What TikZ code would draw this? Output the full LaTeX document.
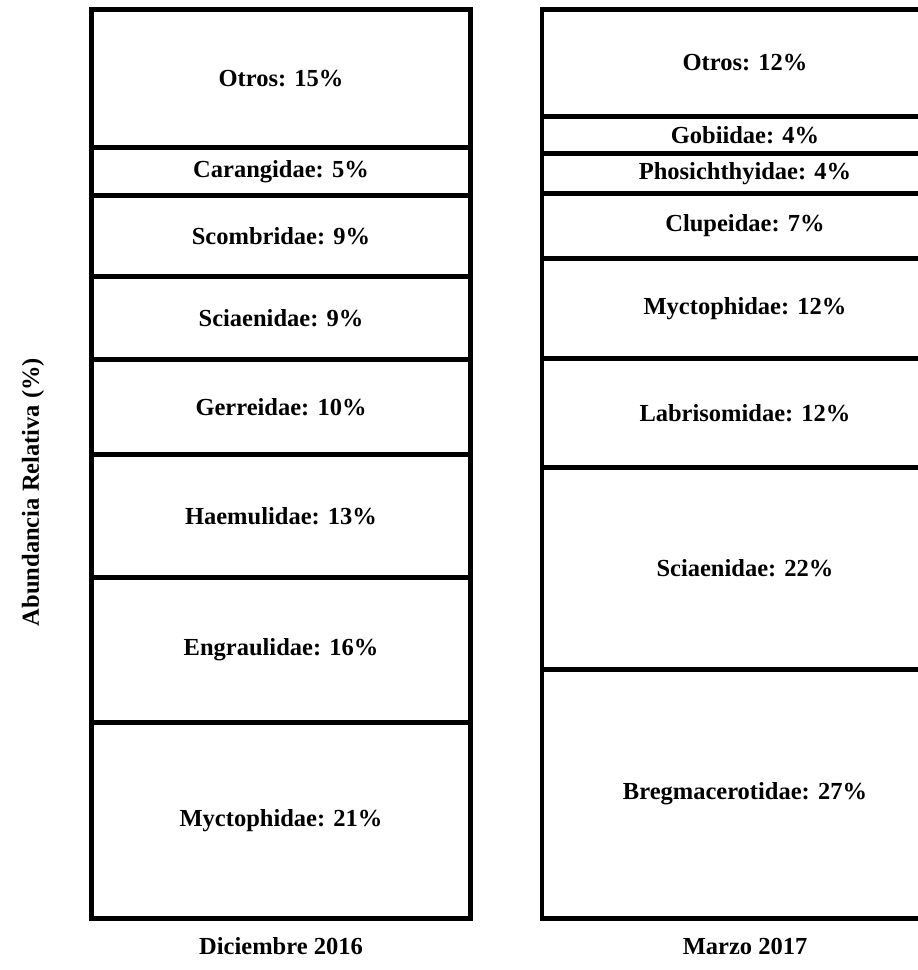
\documentclass[tikz,border=0pt]{standalone}
\usepackage{fontspec}
\setmainfont{Liberation Serif}
\begin{document}
\begin{tikzpicture}[x=1pt,y=-1pt,
  seg/.style={draw=black,line width=4.5pt,rectangle,inner sep=0pt,anchor=north,
    font=\fontsize{24.5}{29}\selectfont\bfseries,text=black},
  lab/.style={font=\fontsize{24.5}{29}\selectfont\bfseries,text=black,inner sep=0pt}]
\clip (0,0) rectangle (918,970);
\fill[white] (0,0) rectangle (918,970);
% left column
\tikzset{lc/.style={seg,minimum width=379pt}}
\node[lc,minimum height=138pt] (l1) at (281,7) {Otros: 15\%};
\node[lc,minimum height=48pt] (l2) at (281,145) {Carangidae: 5\%};
\node[lc,minimum height=81pt] (l3) at (281,193) {Scombridae: 9\%};
\node[lc,minimum height=83pt] (l4) at (281,274) {Sciaenidae: 9\%};
\node[lc,minimum height=95pt] (l5) at (281,357) {Gerreidae: 10\%};
\node[lc,minimum height=123pt] (l6) at (281,452) {Haemulidae: 13\%};
\node[lc,minimum height=145pt] (l7) at (281,575) {Engraulidae: 16\%};
\node[lc,minimum height=196pt] (l8) at (281,720) {Myctophidae: 21\%};
% right column
\tikzset{rc/.style={seg,minimum width=406pt}}
\node[rc,minimum height=107pt] (r1) at (745,7) {Otros: 12\%};
\node[rc,minimum height=37pt] (r2) at (745,114) {Gobiidae: 4\%};
\node[rc,minimum height=40pt] (r3) at (745,151) {Phosichthyidae: 4\%};
\node[rc,minimum height=65pt] (r4) at (745,191) {Clupeidae: 7\%};
\node[rc,minimum height=100pt] (r5) at (745,256) {Myctophidae: 12\%};
\node[rc,minimum height=109pt] (r6) at (745,356) {Labrisomidae: 12\%};
\node[rc,minimum height=202pt] (r7) at (745,465) {Sciaenidae: 22\%};
\node[rc,minimum height=249pt] (r8) at (745,667) {Bregmacerotidae: 27\%};
% labels
\node[lab] (xl1) at (281,946) {Diciembre 2016};
\node[lab] (xl2) at (745,946) {Marzo 2017};
\node[lab,rotate=90] (yl) at (33,492) {Abundancia Relativa (\%)};
\end{tikzpicture}
\end{document}
